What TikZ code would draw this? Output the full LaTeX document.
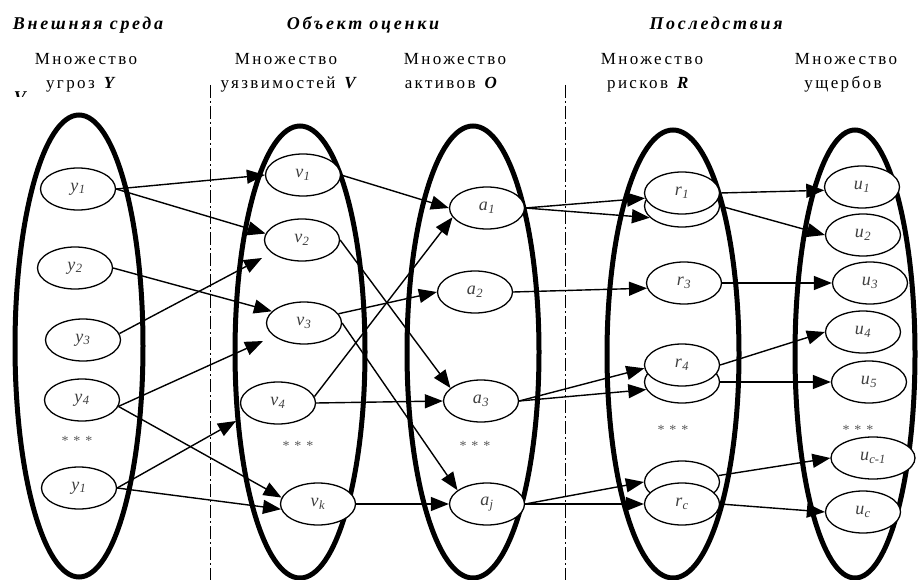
\documentclass[tikz,border=0pt]{standalone}
\usepackage{fontspec}
\setmainfont{Liberation Serif}
\usetikzlibrary{arrows.meta,shapes.geometric}
\newcommand\lb[2]{\textit{#1}\kern0.3pt\textsubscript{\textit{#2}}}
\begin{document}
\begin{tikzpicture}[x=1pt,y=-1pt,
  bigset/.style={line width=5pt},
  el/.style={ellipse, draw, line width=1.3pt, fill=white, minimum width=75pt, minimum height=42pt, inner sep=0pt, font=\fontsize{18}{18}\selectfont, text=black!75},
  ar/.style={line width=1.4pt, -{Triangle[length=18pt,width=14pt]}},
  sepline/.style={line width=1pt, dash pattern=on 13pt off 3pt on 2pt off 3pt},
  hdr/.style={anchor=base, inner sep=0pt, font=\fontsize{18}{18}\selectfont\bfseries\itshape\addfontfeature{LetterSpace=15}},
  ttl/.style={anchor=base, inner sep=0pt, font=\fontsize{17}{17}\selectfont\addfontfeature{LetterSpace=14}},
  stars/.style={font=\fontsize{14}{14}\selectfont\addfontfeature{LetterSpace=10}, text=black!65, inner sep=0pt}
]
\useasboundingbox (0,0) rectangle (918,580);

% big sets
\draw[bigset] (79,346) ellipse [x radius=64pt, y radius=231pt];
\draw[bigset] (300,352) ellipse [x radius=65pt, y radius=226pt];
\draw[bigset] (473,352) ellipse [x radius=66pt, y radius=226pt];
\draw[bigset] (673,354) ellipse [x radius=66pt, y radius=224pt];
\draw[bigset] (855,354) ellipse [x radius=60pt, y radius=224pt];

% separators
\coordinate (s1a) at (210,85); \coordinate (s1b) at (210,580);
\coordinate (s2a) at (565,85); \coordinate (s2b) at (565,580);
\draw[sepline] (s1a) -- (s1b);
\draw[sepline] (s2a) -- (s2b);

% headers
\node[hdr] (h1) at (88,30) {Внешняя среда};
\node[hdr] (h2) at (363,30) {Объект оценки};
\node[hdr] (h3) at (716,30) {Последствия};

\node[ttl] (t1a) at (86,65) {Множество};
\node[ttl] (t1b) at (82,89) {угроз \textbf{\textit{Y}}};
\node[ttl] (t2a) at (286,65) {Множество};
\node[ttl] (t2b) at (290,89) {уязвимостей \textbf{\textit{V}}};
\node[ttl] (t3a) at (455,65) {Множество};
\node[ttl] (t3b) at (452,89) {активов \textbf{\textit{O}}};
\node[ttl] (t4a) at (652,65) {Множество};
\node[ttl] (t4b) at (649,89) {рисков \textbf{\textit{R}}};
\node[ttl] (t5a) at (846,65) {Множество};
\node[ttl] (t5b) at (843,89) {ущербов};

\begin{scope}
\clip (8,90) rectangle (34,97);
\node[hdr] (frag) at (20,104) {V};
\end{scope}

% Y nodes
\node[el] (y1) at (78,189) {\lb{y}{1}};
\node[el] (y2) at (75,268) {\lb{y}{2}};
\node[el] (y3) at (83,340) {\lb{y}{3}};
\node[el] (y4) at (82,400) {\lb{y}{4}};
\node[stars] (ys) at (77,441) {* * *};
\node[el] (yl) at (79,488) {\lb{y}{1}};

% V nodes
\node[el] (v1) at (303,175) {\lb{v}{1}};
\node[el] (v2) at (302,240) {\lb{v}{2}};
\node[el] (v3) at (304,323) {\lb{v}{3}};
\node[el] (v4) at (278,403) {\lb{v}{4}};
\node[stars] (vs) at (298,446) {* * *};
\node[el] (vk) at (318,504) {\lb{v}{k}};

% A nodes
\node[el] (a1) at (487,208) {\lb{a}{1}};
\node[el] (a2) at (475,292) {\lb{a}{2}};
\node[el] (a3) at (481,401) {\lb{a}{3}};
\node[stars] (as) at (475,446) {* * *};
\node[el] (aj) at (487,504) {\lb{a}{j}};

% R nodes
\node[el] (r2) at (682,206) {};
\node[el] (r1) at (682,193) {\lb{r}{1}};
\node[el] (r3) at (684,283) {\lb{r}{3}};
\node[el] (r4b) at (682,382) {};
\node[el] (r4) at (682,365) {\lb{r}{4}};
\node[stars] (rs) at (673,430) {* * *};
\node[el] (rcm) at (682,482) {};
\node[el] (rc) at (682,504) {\lb{r}{c}};

% U nodes
\node[el] (u1) at (862,187) {\lb{u}{1}};
\node[el] (u2) at (863,235) {\lb{u}{2}};
\node[el] (u3) at (870,283) {\lb{u}{3}};
\node[el] (u4) at (863,332) {\lb{u}{4}};
\node[el] (u5) at (869,382) {\lb{u}{5}};
\node[stars] (us) at (858,430) {* * *};
\node[el, minimum width=84pt] (ucm) at (873,458) {\lb{u}{c-1}};
\node[el] (uc) at (863,512) {\lb{u}{c}};

% free arrow ends
\coordinate (c1) at (262,258);
\coordinate (c2) at (263,341);
\coordinate (c3) at (236,421);

% arrows Y -> V
\draw[ar] (y1.east) -- (v1.west);
\draw[ar] (y1.east) -- (v2.170);
\draw[ar] (y2.east) -- (v3.160);
\draw[ar] (y3.10) -- (c1);
\draw[ar] (y4.-10) -- (c2);
\draw[ar] (y4.-10) -- (vk.170);
\draw[ar] (yl.east) -- (c3);
\draw[ar] (yl.east) -- (vk.188);
% V -> A
\draw[ar] (v1.east) -- (a1.west);
\draw[ar] (v2.east) -- (a3.157);
\draw[ar] (v3.15) -- (a2.west);
\draw[ar] (v3.east) -- (aj.155);
\draw[ar] (v4.10) -- (a1.195);
\draw[ar] (v4.east) -- (a3.west);
\draw[ar] (vk.east) -- (aj.west);
% A -> R
\draw[ar] (a1.east) -- (r1.188);
\draw[ar] (a1.east) -- (r2.200);
\draw[ar] (a2.east) -- (r3.188);
\draw[ar] (a3.east) -- (r4.185);
\draw[ar] (a3.east) -- (r4b.192);
\draw[ar] (aj.east) -- (rcm.west);
\draw[ar] (aj.east) -- (rc.west);
% R -> U
\draw[ar] (r1.east) -- (u1.185);
\draw[ar] (r2.east) -- (u2.west);
\draw[ar] (r3.east) -- (u3.west);
\draw[ar] (r4.east) -- (u4.west);
\draw[ar] (r4b.east) -- (u5.west);
\draw[ar] (rcm.10) -- (ucm.west);
\draw[ar] (rc.east) -- (uc.west);
\end{tikzpicture}
\end{document}
